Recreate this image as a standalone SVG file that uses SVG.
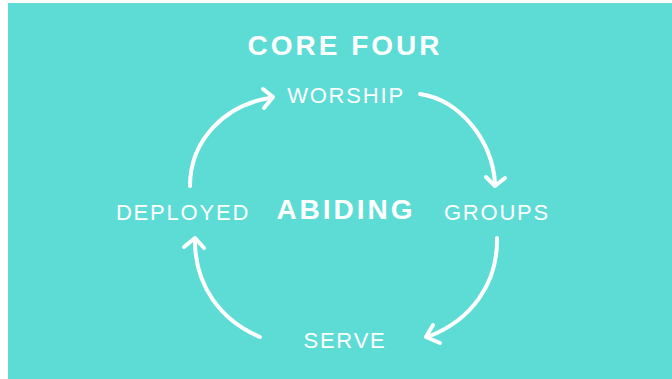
<svg xmlns="http://www.w3.org/2000/svg" width="672" height="379" viewBox="0 0 672 379">
<style>
.lbl{font-family:"Liberation Sans","Arial",sans-serif;fill:#ffffff;font-size:22px;letter-spacing:1.8px;text-anchor:middle}
.bold{font-weight:bold;font-size:28px;letter-spacing:3px}
.arc{fill:none;stroke:#ffffff;stroke-width:4;stroke-linecap:round;stroke-linejoin:round}
</style>
<rect x="0" y="0" width="672" height="379" fill="#ffffff"/>
<rect x="8" y="3" width="664" height="376" fill="#5DDCD6"/>
<g id="title"><text class="lbl bold" x="345" y="55">CORE FOUR</text></g>
<g id="worship"><text class="lbl" x="346" y="103">WORSHIP</text></g>
<g id="groups"><text class="lbl" x="497" y="220">GROUPS</text></g>
<g id="serve"><text class="lbl" x="345" y="348">SERVE</text></g>
<g id="deployed"><text class="lbl" x="183" y="220">DEPLOYED</text></g>
<g id="abiding"><text class="lbl bold" x="346" y="219">ABIDING</text></g>
<g id="connectors">
<path class="arc" d="M190,186 C190,140 225,105 270,98"/>
<polyline class="arc" points="263,89 273,97 264,108"/>
<path class="arc" d="M420,94 C460,100 492,140 495,183"/>
<polyline class="arc" points="486,177 495,186 505,178"/>
<path class="arc" d="M497,238 C498,285 470,320 430,336"/>
<polyline class="arc" points="433,325 426,337 440,343"/>
<path class="arc" d="M260,337 C220,320 195,285 195,241"/>
<polyline class="arc" points="184,247 195,238 204,248"/>
</g>
</svg>
